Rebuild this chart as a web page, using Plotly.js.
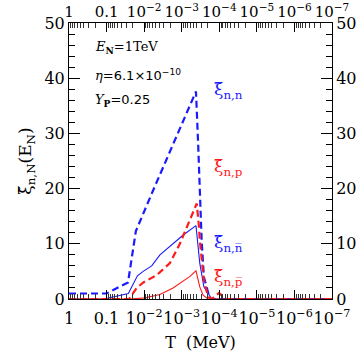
<!DOCTYPE html>
<html>
<head>
<meta charset="utf-8">
<script src="https://cdn.plot.ly/plotly-3.0.1.min.js"></script>
<style>
  html, body { margin: 0; padding: 0; background: #fff; }
  #plot { width: 364px; height: 352px; }
</style>
</head>
<body>
<div id="plot"></div>
<script>
// --- datos ---
// T (MeV) y xi_n,n (azul discontinua)
const T_nn  = [1, 0.1, 0.0269, 0.0166, 0.00575, 0.00309, 0.00151, 0.000741, 0.000417, 0.000363, 0.000331, 0.000295, 0.000257, 0.000178, 1e-7];
const xi_nn = [1.0, 1.0, 3.0, 12.3, 19.7, 24.0, 28.8, 33.6, 37.6, 27.6, 18.5, 10.7, 4.0, 0.0, 0.0];

// xi_n,p (roja discontinua)
const T_np  = [1, 0.0251, 0.0158, 0.0105, 0.00468, 0.00206, 0.00112, 0.000692, 0.000398, 0.000347, 0.000331, 0.000257, 0.000199, 0.000158, 0.000102, 0.0000661, 1e-7];
const xi_np = [0, 0, 2.0, 3.0, 4.3, 6.5, 10.0, 13.5, 17.3, 13.1, 10.7, 3.4, 0.4, 0, 1.1, 0, 0];

// xi_n,nbar (azul continua)
const T_nnb  = [1, 0.117, 0.063, 0.0263, 0.0151, 0.0106, 0.0063, 0.0038, 0.000912, 0.000417, 0.000331, 0.000257, 0.000158, 1e-7];
const xi_nnb = [0, 0, 0.4, 1.0, 4.2, 5.0, 6.0, 8.0, 11.6, 13.3, 6.5, 2.2, 0, 0];

// xi_n,pbar (roja continua)
const T_npb  = [1, 0.024, 0.0095, 0.0038, 0.0017, 0.000912, 0.000603, 0.000417, 0.000331, 0.000269, 0.0002, 1e-7];
const xi_npb = [0, 0, 0.2, 0.8, 2.0, 3.2, 4.1, 5.1, 2.2, 0.7, 0, 0];

// etiquetas de los ejes
const xTickVals = [1, 0.1, 1e-2, 1e-3, 1e-4, 1e-5, 1e-6, 1e-7];
const xTickText = ['1', '0.1', '10<sup>−2</sup>', '10<sup>−3</sup>', '10<sup>−4</sup>',
                   '10<sup>−5</sup>', '10<sup>−6</sup>', '10<sup>−7</sup>'];
const yTickVals = [0, 10, 20, 30, 40, 50];

// ticks menores: 2..9 de cada decada, y cada 2 en y
const xMinor = [];
for (let d = 0; d < 7; d++) {
    for (let k = 2; k <= 9; k++) xMinor.push(k * Math.pow(10, -d - 1));
}
const yMinor = [];
for (let v = 0; v <= 50; v += 2) if (v % 10) yMinor.push(v);

const BLUE = '#1a1aff';
const RED = '#ff1a1a';
const SERIF = 'DejaVu Serif, serif';

const traces = [
    { x: T_nn, y: xi_nn, mode: 'lines', line: { color: BLUE, width: 2.2, dash: '7px,4px' } },
    { x: T_nnb, y: xi_nnb, mode: 'lines', line: { color: BLUE, width: 1.1 } },
    { x: T_np, y: xi_np, mode: 'lines', line: { color: RED, width: 2.2, dash: '7px,4px' } },
    { x: T_npb, y: xi_npb, mode: 'lines', line: { color: RED, width: 1.1 } },
    // traza vacia para los ejes de arriba / derecha
    { x: [], y: [], xaxis: 'x2', yaxis: 'y2', mode: 'lines' }
].map(t => Object.assign({ showlegend: false, hoverinfo: 'skip' }, t));

const xCommon = {
    type: 'log',
    range: [0, -7],
    autorange: false,
    tickmode: 'array',
    tickvals: xTickVals,
    ticktext: xTickText,
    tickangle: 0,
    ticks: 'inside',
    ticklen: 9,
    tickwidth: 1,
    tickcolor: '#000',
    minor: { tickmode: 'array', tickvals: xMinor, ticks: 'inside', ticklen: 5, tickcolor: '#333', showgrid: false },
    showline: true,
    linecolor: '#000',
    linewidth: 1,
    showgrid: false,
    zeroline: false,
    tickfont: { family: SERIF, size: 16, color: '#000' }
};

const yCommon = {
    range: [0, 50],
    autorange: false,
    tickmode: 'array',
    tickvals: yTickVals,
    ticks: 'inside',
    ticklen: 11,
    tickwidth: 1,
    tickcolor: '#000',
    minor: { tickmode: 'array', tickvals: yMinor, ticks: 'inside', ticklen: 6, tickcolor: '#000', showgrid: false },
    showline: true,
    linecolor: '#000',
    linewidth: 1,
    showgrid: false,
    zeroline: false,
    tickfont: { family: SERIF, size: 16, color: '#000' }
};

const ann = (text, x, y, color, size) => ({
    text, x, y, xref: 'paper', yref: 'paper', xanchor: 'left', yanchor: 'middle',
    showarrow: false, font: { family: SERIF, size: size, color: color }
});

const layout = {
    width: 364,
    height: 352,
    margin: { l: 69, r: 32, t: 23, b: 53 },
    paper_bgcolor: '#fff',
    plot_bgcolor: '#fff',
    xaxis: Object.assign({}, xCommon, {
        ticklabelstandoff: 5,
        title: { text: 'T  (MeV)', font: { family: SERIF, size: 16, color: '#000' }, standoff: 10 }
    }),
    xaxis2: Object.assign({}, xCommon, {
        overlaying: 'x', side: 'top', anchor: 'y2', ticklabelstandoff: -1,
        tickfont: { family: SERIF, size: 15, color: '#000' }
    }),
    yaxis: Object.assign({}, yCommon, {
        title: {
            text: 'ξ̃<sub>n,N</sub>(E<sub>N</sub>)',
            font: { family: SERIF, size: 17, color: '#000' },
            standoff: 8
        }
    }),
    yaxis2: Object.assign({}, yCommon, { overlaying: 'y', side: 'right', anchor: 'x2' }),
    annotations: [
        ann('<i>E</i><sub><b>N</b></sub>=1TeV', 0.09, 0.913, '#000', 13),
        ann('<i>η</i>=<span style="font-family:DejaVu Sans">6.1×10<sup>−10</sup></span>', 0.09, 0.812, '#000', 13),
        ann('<i>Y</i><sub><b>P</b></sub>=<span style="font-family:DejaVu Sans">0.25</span>', 0.09, 0.721, '#000', 13),
        ann('ξ̃<sub>n,n</sub>', 0.545, 0.755, BLUE, 17),
        ann('ξ̃<sub>n,p</sub>', 0.545, 0.475, RED, 17),
        ann('ξ̃<sub>n,n̅</sub>', 0.545, 0.2, BLUE, 17),
        ann('ξ̃<sub>n,p̅</sub>', 0.545, 0.078, RED, 17)
    ]
};

Plotly.newPlot('plot', traces, layout, { staticPlot: true, displayModeBar: false });
</script>
</body>
</html>
